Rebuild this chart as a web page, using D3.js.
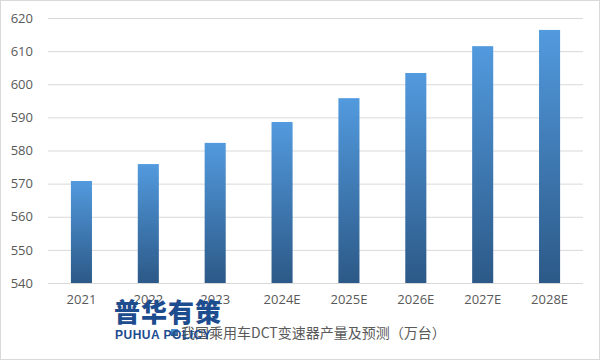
<!DOCTYPE html>
<html>
<head>
<meta charset="utf-8">
<script src="https://cdn.jsdelivr.net/npm/d3@7"></script>
<style>
	body { margin: 0; background: #fff; }
	svg text { font-family: "Noto Sans CJK SC", "Open Sans", sans-serif; }
	.axis path.domain { display: none; }
	.axis .tick line { display: none; }
	.grid .tick line { stroke: #d9d9d9; stroke-width: 1; }
	.grid path.domain { display: none; }
</style>
</head>
<body>
<div id="container"></div>
<script>
	// chart data
	var years = ["2021", "2022", "2023", "2024E", "2025E", "2026E", "2027E", "2028E"];
	var output = [570.8, 575.9, 582.3, 588.6, 595.8, 603.4, 611.5, 616.4];
	var yTicks = [540, 550, 560, 570, 580, 590, 600, 610, 620];
	var seriesName = "我国乘用车DCT变速器产量及预测（万台）";

	var W = 601, H = 361;
	var margin = {top: 18, right: 18, bottom: 78, left: 48};
	var width = W - margin.left - margin.right;
	var height = H - margin.top - margin.bottom;

	var svg = d3.select("#container").append("svg")
		.attr("width", W)
		.attr("height", H);

	svg.append("rect")
		.attr("x", 0.5).attr("y", 0.5)
		.attr("width", W - 2).attr("height", H - 2)
		.attr("fill", "#fff")
		.style("stroke", "#d9d9d9");

	var grad = svg.append("defs").append("linearGradient")
		.attr("id", "barGrad")
		.attr("x1", 0).attr("y1", 0).attr("x2", 0).attr("y2", 1);
	grad.append("stop").attr("offset", "0%").attr("stop-color", "#529ade");
	grad.append("stop").attr("offset", "100%").attr("stop-color", "#2c5987");

	var g = svg.append("g")
		.attr("transform", "translate(" + margin.left + "," + margin.top + ")");

	var x = d3.scaleBand().domain(years).range([0, width]).paddingInner(0.685).paddingOuter(0.3425);
	var y = d3.scaleLinear().domain([540, 620]).range([height, 0]);

	g.append("g")
		.attr("class", "grid")
		.call(d3.axisLeft(y).tickValues(yTicks).tickSize(-width).tickFormat(""));

	g.selectAll(".bar")
		.data(output)
		.enter().append("rect")
		.attr("class", "bar")
		.attr("x", function(d, i) { return x(years[i]); })
		.attr("y", function(d) { return y(d); })
		.attr("width", x.bandwidth())
		.attr("height", function(d) { return height - y(d); })
		.attr("fill", "url(#barGrad)");

	g.append("g")
		.attr("class", "axis")
		.call(d3.axisLeft(y).tickValues(yTicks).tickSize(0).tickPadding(15))
		.call(a => a.selectAll("text")
			.attr("fill", "#595959")
			.style("font-size", "13px")
			.style("font-family", "'Open Sans', sans-serif"));

	g.append("g")
		.attr("class", "axis")
		.attr("transform", "translate(0," + height + ")")
		.call(d3.axisBottom(x).tickSize(0).tickPadding(12))
		.call(a => a.selectAll("text")
			.attr("fill", "#595959")
			.style("font-size", "13px")
			.style("font-family", "'Open Sans', sans-serif"));

	// legend
	var leg = svg.append("g").attr("transform", "translate(171,333)");
	leg.append("rect")
		.attr("x", 0).attr("y", -4)
		.attr("width", 7).attr("height", 7)
		.attr("fill", "url(#barGrad)");
	leg.append("text")
		.attr("x", 10).attr("y", 0)
		.attr("dy", "0.35em")
		.attr("fill", "#595959")
		.style("font-size", "14px")
		.text(seriesName);

	// watermark
	svg.append("text")
		.attr("x", 114).attr("y", 322)
		.attr("fill", "#1d4c8f")
		.style("font-size", "26px")
		.style("font-weight", "900")
		.style("letter-spacing", "1px")
		.text("普华有策");
	svg.append("text")
		.attr("x", 115).attr("y", 339)
		.attr("fill", "#1d4c8f")
		.style("font-size", "12px")
		.style("font-weight", "bold")
		.style("font-family", "'Liberation Sans', sans-serif")
		.style("letter-spacing", "0.5px")
		.text("PUHUA POLICY");
</script>
</body>
</html>
